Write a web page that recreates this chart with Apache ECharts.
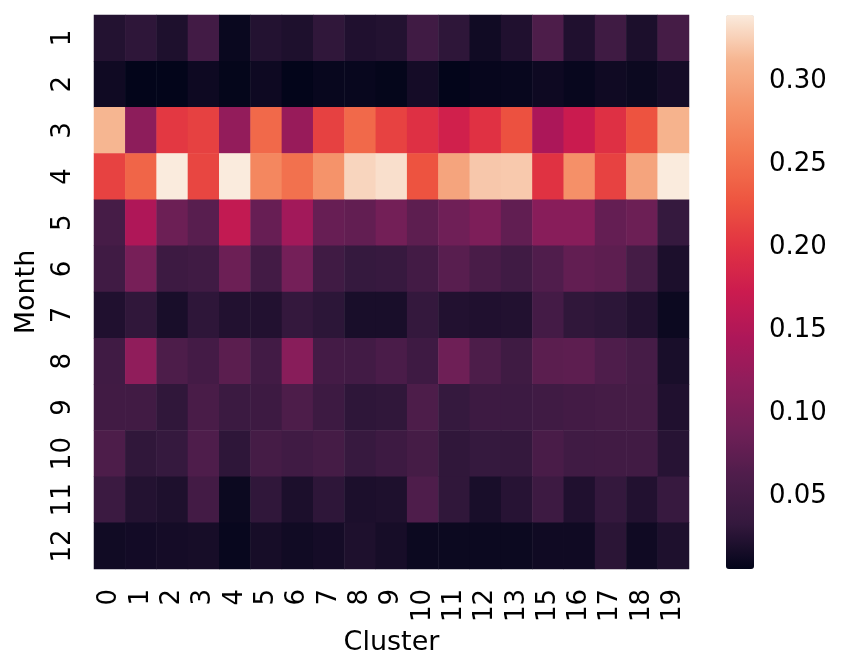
<!DOCTYPE html>
<html>
<head>
<meta charset="utf-8">
<script src="https://cdn.jsdelivr.net/npm/echarts@6/dist/echarts.min.js"></script>
<style>
html, body { margin: 0; padding: 0; background: #fff; }
#heat { width: 848px; height: 672px; }
</style>
</head>
<body>
<div id="heat"></div>
<script>
// cluster ids (14 is absent) and months
let clusters = ["0", "1", "2", "3", "4", "5", "6", "7", "8", "9", "10", "11", "12", "13", "15", "16", "17", "18", "19"];
let months = ["1", "2", "3", "4", "5", "6", "7", "8", "9", "10", "11", "12"];

// share per month (rows) and cluster (columns)
let shares = [
  [0.024, 0.030, 0.021, 0.048, 0.010, 0.024, 0.021, 0.031, 0.022, 0.024, 0.046, 0.030, 0.014, 0.022, 0.060, 0.022, 0.045, 0.020, 0.052],
  [0.013, 0.006, 0.006, 0.012, 0.007, 0.012, 0.006, 0.009, 0.009, 0.007, 0.016, 0.006, 0.008, 0.009, 0.012, 0.009, 0.013, 0.011, 0.016],
  [0.313, 0.116, 0.205, 0.212, 0.122, 0.245, 0.126, 0.212, 0.245, 0.213, 0.197, 0.179, 0.199, 0.225, 0.144, 0.172, 0.197, 0.226, 0.311],
  [0.213, 0.242, 0.340, 0.216, 0.340, 0.272, 0.252, 0.283, 0.329, 0.334, 0.226, 0.298, 0.322, 0.323, 0.200, 0.281, 0.213, 0.298, 0.340],
  [0.053, 0.147, 0.086, 0.070, 0.165, 0.082, 0.135, 0.082, 0.078, 0.092, 0.074, 0.089, 0.102, 0.077, 0.112, 0.112, 0.080, 0.086, 0.034],
  [0.046, 0.096, 0.043, 0.046, 0.086, 0.049, 0.093, 0.046, 0.034, 0.036, 0.049, 0.070, 0.056, 0.046, 0.063, 0.078, 0.074, 0.052, 0.020],
  [0.022, 0.031, 0.018, 0.030, 0.023, 0.023, 0.033, 0.029, 0.018, 0.018, 0.033, 0.023, 0.022, 0.023, 0.050, 0.031, 0.029, 0.023, 0.011],
  [0.046, 0.119, 0.060, 0.050, 0.072, 0.048, 0.112, 0.050, 0.048, 0.057, 0.044, 0.088, 0.060, 0.045, 0.072, 0.074, 0.062, 0.053, 0.018],
  [0.047, 0.047, 0.031, 0.056, 0.040, 0.043, 0.060, 0.043, 0.030, 0.031, 0.060, 0.034, 0.043, 0.042, 0.046, 0.049, 0.052, 0.052, 0.022],
  [0.060, 0.031, 0.034, 0.062, 0.030, 0.052, 0.046, 0.052, 0.036, 0.043, 0.052, 0.031, 0.034, 0.033, 0.056, 0.046, 0.047, 0.047, 0.026],
  [0.040, 0.024, 0.021, 0.049, 0.011, 0.031, 0.020, 0.030, 0.020, 0.021, 0.062, 0.031, 0.018, 0.026, 0.043, 0.022, 0.033, 0.023, 0.036],
  [0.014, 0.015, 0.016, 0.017, 0.009, 0.017, 0.014, 0.016, 0.021, 0.017, 0.011, 0.011, 0.011, 0.011, 0.013, 0.013, 0.028, 0.013, 0.021],
];

// colorbar
let barTicks = [0.05, 0.10, 0.15, 0.20, 0.25, 0.30];
let vMin = 0.006;
let vMax = 0.340;

// seaborn "rocket"
let rocket = ["#03051a", "#35193e", "#4e1d4b", "#701f57", "#8e1d5b", "#ad1759", "#cb1b4f",
  "#e13342", "#ee5640", "#f37651", "#f5946b", "#f6b48f", "#faebdd"];

let cells = [];
shares.forEach((row, m) => {
  row.forEach((v, c) => {
    cells.push([c, m, v]);
  });
});

let chart = echarts.init(document.getElementById("heat"));

let tickStyle = { color: "#222", width: 1.5 };

let option = {
  animation: false,
  textStyle: { fontFamily: "DejaVu Sans" },
  grid: [
    { left: 94, top: 15, width: 595, height: 554 },
    { left: 726, top: 15, width: 28, height: 554 },
  ],
  xAxis: [
    {
      type: "category",
      gridIndex: 0,
      data: clusters,
      name: "Cluster",
      nameLocation: "middle",
      nameGap: 60,
      nameTextStyle: { fontSize: 27, color: "#000" },
      axisLine: { show: false },
      axisTick: { alignWithLabel: true, length: 7, lineStyle: tickStyle },
      axisLabel: { rotate: 90, interval: 0, fontSize: 26, color: "#000", margin: 20 },
      splitLine: { show: false },
    },
    { type: "value", gridIndex: 1, show: false, min: 0, max: 1 },
  ],
  yAxis: [
    {
      type: "category",
      gridIndex: 0,
      data: months,
      inverse: true,
      name: "Month",
      nameLocation: "middle",
      nameGap: 54,
      nameTextStyle: { fontSize: 27, color: "#000" },
      axisLine: { show: false },
      axisTick: { alignWithLabel: true, length: 7, lineStyle: tickStyle },
      axisLabel: { rotate: 90, interval: 0, fontSize: 26, color: "#000", margin: 18 },
      splitLine: { show: false },
    },
    {
      type: "value",
      gridIndex: 1,
      position: "right",
      min: vMin,
      max: vMax,
      axisLine: { show: false },
      splitLine: { show: false },
      axisTick: { show: true, customValues: barTicks, length: 6, lineStyle: tickStyle },
      axisLabel: {
        customValues: barTicks,
        fontSize: 26,
        color: "#000",
        margin: 15,
        formatter: (v) => v.toFixed(2),
      },
    },
  ],
  visualMap: {
    type: "continuous",
    seriesIndex: 0,
    min: vMin,
    max: vMax,
    calculable: false,
    left: 726,
    top: 15,
    padding: 0,
    itemWidth: 28,
    itemHeight: 554,
    text: null,
    inRange: { color: rocket },
  },
  series: [
    {
      type: "heatmap",
      xAxisIndex: 0,
      yAxisIndex: 0,
      data: cells,
      emphasis: { disabled: true },
    },
  ],
};

chart.setOption(option);
</script>
</body>
</html>
